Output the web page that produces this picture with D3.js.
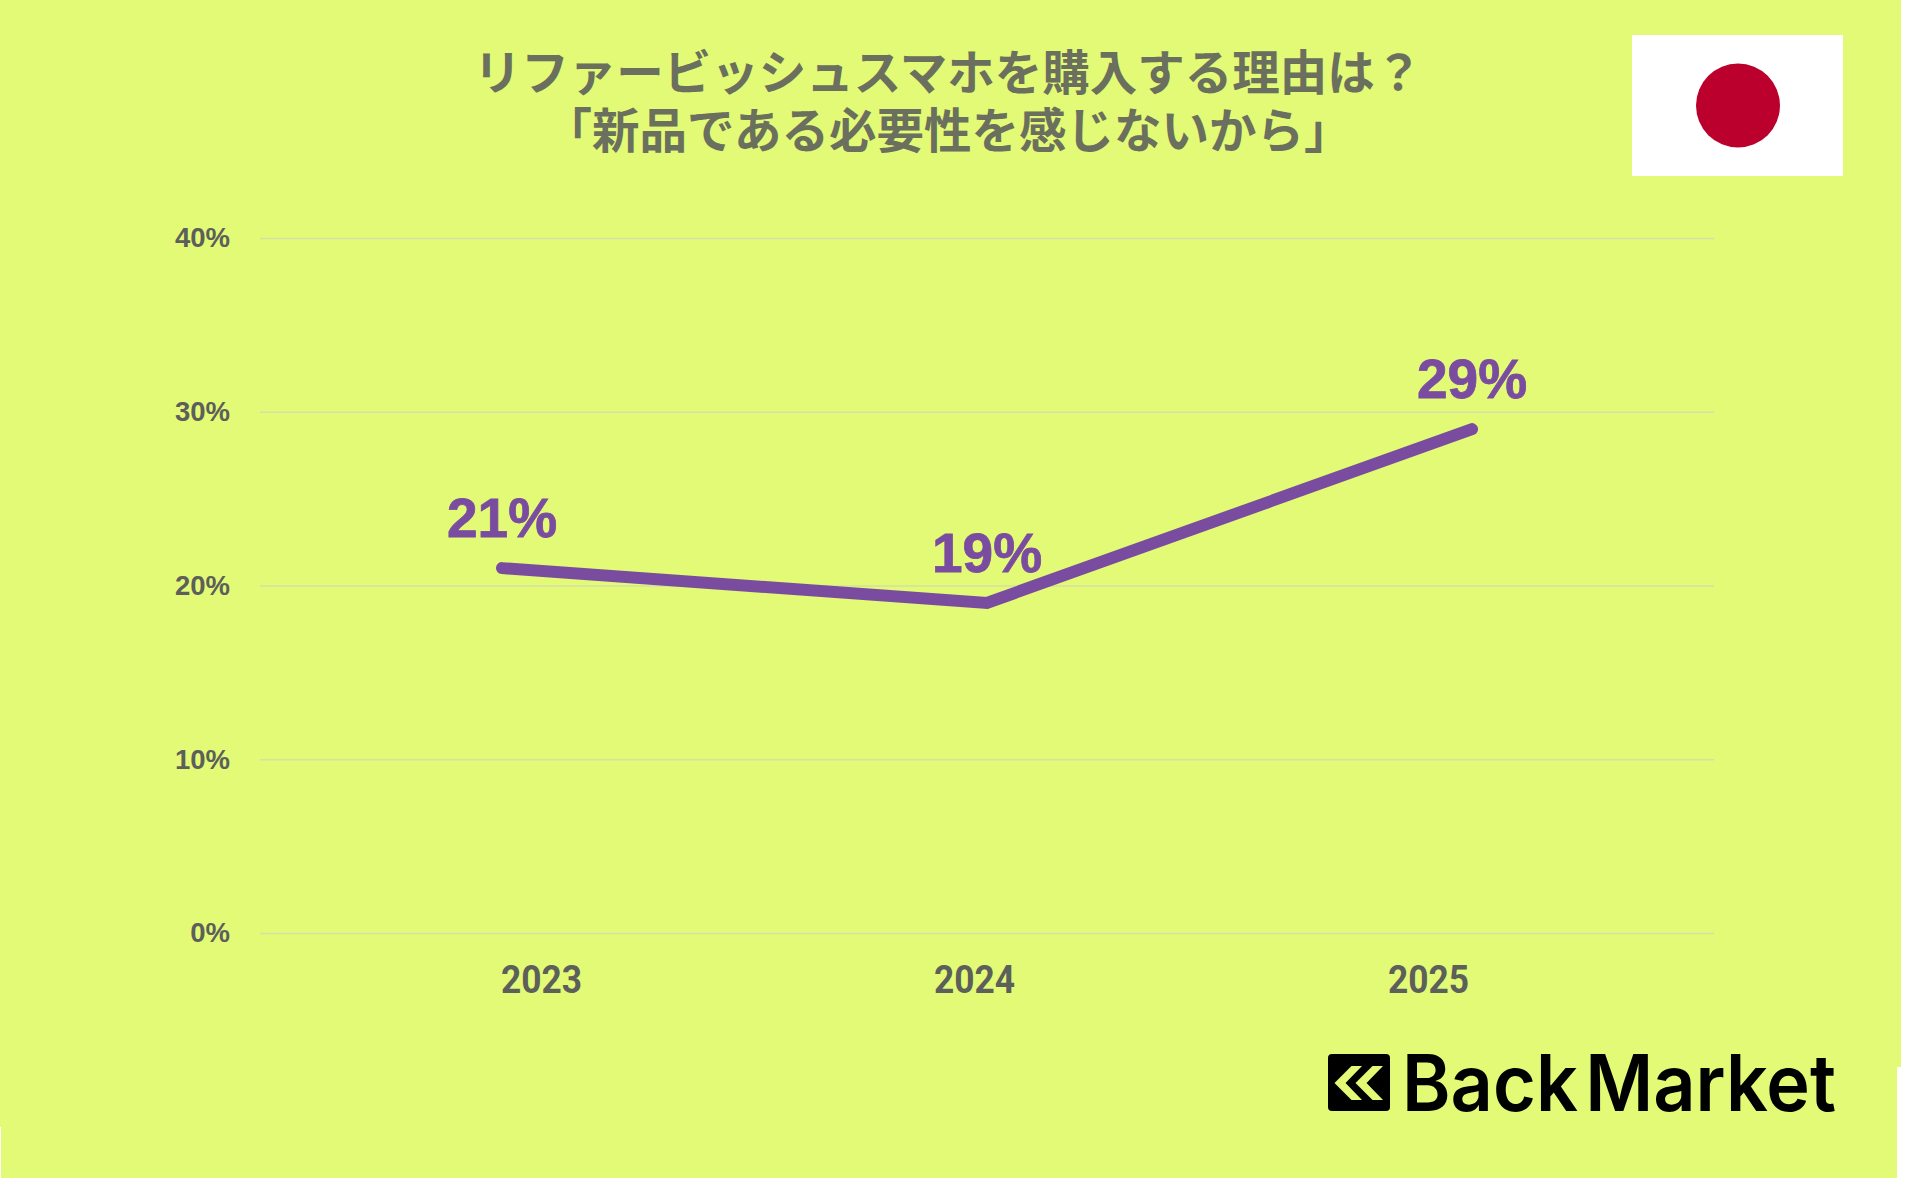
<!DOCTYPE html>
<html>
<head>
<meta charset="utf-8">
<script src="https://cdn.jsdelivr.net/npm/d3@7"></script>
<style>
  html, body { margin: 0; padding: 0; background: #fff; }
  svg { display: block; }
</style>
</head>
<body>
<script>
// data
var years = ["2023", "2024", "2025"];
var shares = [21, 19, 29];
var yTicks = [0, 10, 20, 30, 40];
var titleLines = ["リファービッシュスマホを購入する理由は？", "「新品である必要性を感じないから」"];

var width = 1920, height = 1178;
var bg = "#e2fa75", grey = "#5c5f5a", purple = "#7a4ca0";
var latin = "'Liberation Sans', Arial, sans-serif";

var svg = d3.select("body").append("svg")
  .attr("width", width)
  .attr("height", height);

// yellow card, leaves thin white edges like the source image
svg.append("rect").attr("x", 0).attr("y", 0).attr("width", 1901).attr("height", 1067).attr("fill", bg);
svg.append("rect").attr("x", 1).attr("y", 1067).attr("width", 1896).attr("height", 111).attr("fill", bg);
svg.append("rect").attr("x", 0).attr("y", 1067).attr("width", 1).attr("height", 60).attr("fill", bg);

// scales
var y = d3.scaleLinear().domain([0, 40]).range([933, 238]);
// line points and year labels don't sit on the same x in the original
var xLine = d3.scalePoint().domain(years).range([502, 1472]);
var xLabel = d3.scaleOrdinal().domain(years).range([541, 974, 1428]);

// y axis + grid
var yAxis = svg.append("g")
  .attr("transform", "translate(260,0)")
  .call(d3.axisLeft(y).tickValues(yTicks).tickSize(-1454).tickPadding(30).tickFormat(function(d) { return d + "%"; }));
yAxis.select(".domain").remove();
yAxis.selectAll(".tick line").attr("stroke", "#d6dfa6").attr("stroke-width", 1.5);
yAxis.selectAll(".tick text")
  .attr("fill", grey)
  .style("font-family", latin)
  .style("font-weight", "bold")
  .style("font-size", "27.5px");

// x axis
var xAxis = svg.append("g")
  .attr("transform", "translate(0,933)")
  .call(d3.axisBottom(xLabel).tickSize(0).tickPadding(32));
xAxis.select(".domain").remove();
xAxis.selectAll(".tick text")
  .attr("fill", grey)
  .attr("textLength", 81)
  .attr("lengthAdjust", "spacingAndGlyphs")
  .style("font-family", "Roboto, sans-serif")
  .style("font-weight", "700")
  .style("font-size", "39px");

// line
var line = d3.line()
  .x(function(d, i) { return xLine(years[i]); })
  .y(function(d) { return y(d); });

svg.append("path")
  .datum(shares)
  .attr("d", line)
  .attr("fill", "none")
  .attr("stroke", purple)
  .attr("stroke-width", 12)
  .attr("stroke-linecap", "round")
  .attr("stroke-linejoin", "miter");

// value labels
svg.selectAll(".value")
  .data(shares)
  .enter().append("text")
  .attr("class", "value")
  .attr("x", function(d, i) { return xLine(years[i]); })
  .attr("y", function(d) { return y(d) - 31; })
  .attr("text-anchor", "middle")
  .attr("fill", purple)
  .attr("stroke", purple)
  .attr("stroke-width", 0.8)
  .style("font-family", latin)
  .style("font-weight", "bold")
  .style("font-size", "55px")
  .text(function(d) { return d + "%"; });

// title
svg.selectAll(".title")
  .data(titleLines)
  .enter().append("text")
  .attr("class", "title")
  .attr("x", 948)
  .attr("y", function(d, i) { return 90 + i * 58; })
  .attr("text-anchor", "middle")
  .attr("fill", "#6b6f5e")
  .style("font-family", "'Noto Sans CJK JP', sans-serif")
  .style("font-weight", "bold")
  .style("font-size", "47.5px")
  .text(function(d) { return d; });

// flag
svg.append("rect").attr("x", 1632).attr("y", 35).attr("width", 211).attr("height", 141).attr("fill", "#fff");
svg.append("circle").attr("cx", 1738).attr("cy", 105.5).attr("r", 42).attr("fill", "#bc002d");

// logo
var logo = svg.append("g");
logo.append("rect")
  .attr("x", 1328).attr("y", 1054)
  .attr("width", 62).attr("height", 57)
  .attr("rx", 4)
  .attr("fill", "#000");
// two chevrons in the logo box
[0, 21].forEach(function(dx) {
  logo.append("path")
    .attr("d", "M" + (1362 + dx) + " 1066 h-10.5 l-17 17 l17 17 h10.5 l-16.5 -17 z")
    .attr("fill", bg);
});
logo.append("text")
  .attr("x", 1402).attr("y", 1111)
  .attr("textLength", 434)
  .attr("lengthAdjust", "spacingAndGlyphs")
  .attr("fill", "#000")
  .style("font-family", "Inter, sans-serif")
  .style("font-weight", "600")
  .style("font-size", "78px")
  .style("word-spacing", "-12px")
  .text("Back Market");
</script>
</body>
</html>
